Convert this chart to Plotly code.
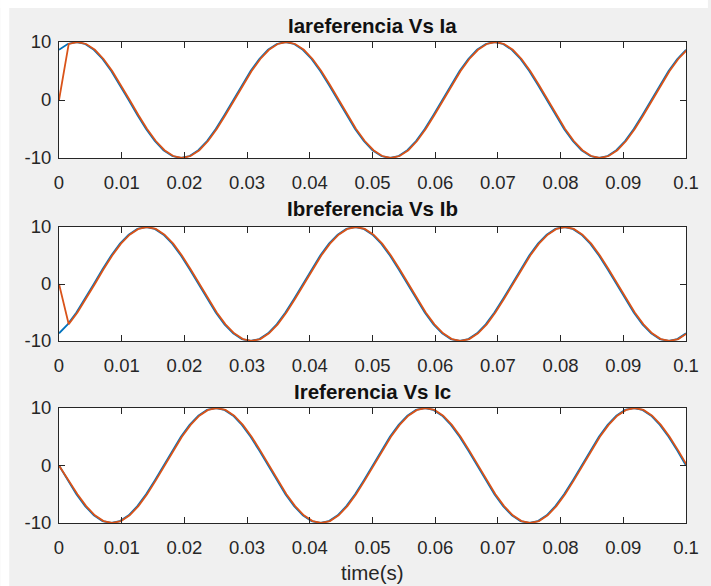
import plotly.graph_objects as go

# Sample instants (s) of the reference currents and of the measured currents
t_ref = [0, 0.001389, 0.002778, 0.004167, 0.005556, 0.006944, 0.008333, 0.009722,
         0.011111, 0.0125, 0.013889, 0.015278, 0.016667, 0.018056, 0.019444, 0.020833,
         0.022222, 0.023611, 0.025, 0.026389, 0.027778, 0.029167, 0.030556, 0.031944,
         0.033333, 0.034722, 0.036111, 0.0375, 0.038889, 0.040278, 0.041667, 0.043056,
         0.044444, 0.045833, 0.047222, 0.048611, 0.05, 0.051389, 0.052778, 0.054167,
         0.055556, 0.056944, 0.058333, 0.059722, 0.061111, 0.0625, 0.063889, 0.065278,
         0.066667, 0.068056, 0.069444, 0.070833, 0.072222, 0.073611, 0.075, 0.076389,
         0.077778, 0.079167, 0.080556, 0.081944, 0.083333, 0.084722, 0.086111, 0.0875,
         0.088889, 0.090278, 0.091667, 0.093056, 0.094444, 0.095833, 0.097222, 0.098611,
         0.1]
t_meas = [0, 0.00155, 0.00294, 0.00433, 0.00572, 0.00710, 0.00849, 0.00988,
          0.01127, 0.01266, 0.01405, 0.01544, 0.01683, 0.01822, 0.01960, 0.02099,
          0.02238, 0.02377, 0.02516, 0.02655, 0.02794, 0.02933, 0.03072, 0.03211,
          0.03349, 0.03488, 0.03627, 0.03766, 0.03905, 0.04044, 0.04183, 0.04322,
          0.04460, 0.04599, 0.04738, 0.04877, 0.05016, 0.05155, 0.05294, 0.05433,
          0.05572, 0.05710, 0.05849, 0.05988, 0.06127, 0.06266, 0.06405, 0.06544,
          0.06683, 0.06822, 0.06960, 0.07099, 0.07238, 0.07377, 0.07516, 0.07655,
          0.07794, 0.07933, 0.08072, 0.08211, 0.08349, 0.08488, 0.08627, 0.08766,
          0.08905, 0.09044, 0.09183, 0.09322, 0.09460, 0.09599, 0.09738, 0.09877,
          0.10016]

# Phase A current (A)
ia_ref = [8.66, 9.66, 10, 9.66, 8.66, 7.07, 5, 2.59, 0, -2.59, -5, -7.07,
          -8.66, -9.66, -10, -9.66, -8.66, -7.07, -5, -2.59, 0, 2.59, 5, 7.07,
          8.66, 9.66, 10, 9.66, 8.66, 7.07, 5, 2.59, 0, -2.59, -5, -7.07,
          -8.66, -9.66, -10, -9.66, -8.66, -7.07, -5, -2.59, 0, 2.59, 5, 7.07,
          8.66, 9.66, 10, 9.66, 8.66, 7.07, 5, 2.59, 0, -2.59, -5, -7.07,
          -8.66, -9.66, -10, -9.66, -8.66, -7.07, -5, -2.59, 0, 2.59, 5, 7.07,
          8.66]
ia_meas = [0, 9.66, 10, 9.66, 8.66, 7.07, 5, 2.59, 0, -2.59, -5, -7.07,
           -8.66, -9.66, -10, -9.66, -8.66, -7.07, -5, -2.59, 0, 2.59, 5, 7.07,
           8.66, 9.66, 10, 9.66, 8.66, 7.07, 5, 2.59, 0, -2.59, -5, -7.07,
           -8.66, -9.66, -10, -9.66, -8.66, -7.07, -5, -2.59, 0, 2.59, 5, 7.07,
           8.66, 9.66, 10, 9.66, 8.66, 7.07, 5, 2.59, 0, -2.59, -5, -7.07,
           -8.66, -9.66, -10, -9.66, -8.66, -7.07, -5, -2.59, 0, 2.59, 5, 7.07,
           8.66]

# Phase B current (A)
ib_ref = [-8.66, -7.07, -5, -2.59, 0, 2.59, 5, 7.07, 8.66, 9.66, 10, 9.66,
          8.66, 7.07, 5, 2.59, 0, -2.59, -5, -7.07, -8.66, -9.66, -10, -9.66,
          -8.66, -7.07, -5, -2.59, 0, 2.59, 5, 7.07, 8.66, 9.66, 10, 9.66,
          8.66, 7.07, 5, 2.59, 0, -2.59, -5, -7.07, -8.66, -9.66, -10, -9.66,
          -8.66, -7.07, -5, -2.59, 0, 2.59, 5, 7.07, 8.66, 9.66, 10, 9.66,
          8.66, 7.07, 5, 2.59, 0, -2.59, -5, -7.07, -8.66, -9.66, -10, -9.66,
          -8.66]
ib_meas = [0, -7.07, -5, -2.59, 0, 2.59, 5, 7.07, 8.66, 9.66, 10, 9.66,
           8.66, 7.07, 5, 2.59, 0, -2.59, -5, -7.07, -8.66, -9.66, -10, -9.66,
           -8.66, -7.07, -5, -2.59, 0, 2.59, 5, 7.07, 8.66, 9.66, 10, 9.66,
           8.66, 7.07, 5, 2.59, 0, -2.59, -5, -7.07, -8.66, -9.66, -10, -9.66,
           -8.66, -7.07, -5, -2.59, 0, 2.59, 5, 7.07, 8.66, 9.66, 10, 9.66,
           8.66, 7.07, 5, 2.59, 0, -2.59, -5, -7.07, -8.66, -9.66, -10, -9.66,
           -8.66]

# Phase C current (A)
ic_ref = [0, -2.59, -5, -7.07, -8.66, -9.66, -10, -9.66, -8.66, -7.07, -5, -2.59,
          0, 2.59, 5, 7.07, 8.66, 9.66, 10, 9.66, 8.66, 7.07, 5, 2.59,
          0, -2.59, -5, -7.07, -8.66, -9.66, -10, -9.66, -8.66, -7.07, -5, -2.59,
          0, 2.59, 5, 7.07, 8.66, 9.66, 10, 9.66, 8.66, 7.07, 5, 2.59,
          0, -2.59, -5, -7.07, -8.66, -9.66, -10, -9.66, -8.66, -7.07, -5, -2.59,
          0, 2.59, 5, 7.07, 8.66, 9.66, 10, 9.66, 8.66, 7.07, 5, 2.59,
          0]
ic_meas = [0, -2.59, -5, -7.07, -8.66, -9.66, -10, -9.66, -8.66, -7.07, -5, -2.59,
           0, 2.59, 5, 7.07, 8.66, 9.66, 10, 9.66, 8.66, 7.07, 5, 2.59,
           0, -2.59, -5, -7.07, -8.66, -9.66, -10, -9.66, -8.66, -7.07, -5, -2.59,
           0, 2.59, 5, 7.07, 8.66, 9.66, 10, 9.66, 8.66, 7.07, 5, 2.59,
           0, -2.59, -5, -7.07, -8.66, -9.66, -10, -9.66, -8.66, -7.07, -5, -2.59,
           0, 2.59, 5, 7.07, 8.66, 9.66, 10, 9.66, 8.66, 7.07, 5, 2.59,
           0]

titles = ["Iareferencia Vs Ia", "Ibreferencia Vs Ib", "Ireferencia Vs Ic"]
x_ticks = [0, 0.01, 0.02, 0.03, 0.04, 0.05, 0.06, 0.07, 0.08, 0.09, 0.1]
x_labels = ["0", "0.01", "0.02", "0.03", "0.04", "0.05", "0.06", "0.07", "0.08", "0.09", "0.1"]
y_ticks = [-10, 0, 10]
y_labels = ["-10", "0", "10"]
x_title = "time(s)"

BLUE = "#0072BD"
ORANGE = "#D95319"
AXC = "#262626"
FONT = "Liberation Sans, Arial, Helvetica, sans-serif"

W, H = 711, 586
ML, MR, MT, MB = 59, 22, 42, 63
PW, PH = W - ML - MR, H - MT - MB


def px_x(px):
    return (px - ML) / PW


def px_y(py):
    return (H - MB - py) / PH


# vertical pixel extents (top, bottom) of the three panels
panel_px = [(42, 158), (227, 341), (408, 523)]
title_px = [25, 209, 392]

series = [(ia_ref, ia_meas), (ib_ref, ib_meas), (ic_ref, ic_meas)]

fig = go.Figure()
layout = dict(
    width=W, height=H,
    margin=dict(l=ML, r=MR, t=MT, b=MB, pad=0),
    paper_bgcolor="#f0f0f0",
    plot_bgcolor="white",
    showlegend=False,
    font=dict(family=FONT, size=18.5, color=AXC),
    annotations=[],
    shapes=[],
)

for i, (ref, meas) in enumerate(series):
    n = "" if i == 0 else str(i + 1)
    xa, ya = "x" + n, "y" + n
    fig.add_trace(go.Scatter(x=t_ref, y=ref, mode="lines", xaxis=xa, yaxis=ya,
                             line=dict(color=BLUE, width=1.8)))
    fig.add_trace(go.Scatter(x=t_meas, y=meas, mode="lines", xaxis=xa, yaxis=ya,
                             line=dict(color=ORANGE, width=1.8)))
    top, bot = panel_px[i]
    common = dict(showline=True, linecolor=AXC, linewidth=1, mirror="ticks",
                  ticks="inside", ticklen=6, tickwidth=1, tickcolor=AXC,
                  showgrid=False, zeroline=False, fixedrange=True,
                  tickfont=dict(family=FONT, size=18.5, color=AXC))
    layout["xaxis" + n] = dict(common, domain=[0, 1], range=[0, 0.1], anchor=ya,
                               tickvals=x_ticks, ticktext=x_labels,
                               ticklabelstandoff=8)
    layout["yaxis" + n] = dict(common, domain=[px_y(bot), px_y(top)], range=[-10, 10],
                               anchor=xa, tickvals=y_ticks, ticktext=y_labels,
                               ticklabelstandoff=3)
    layout["annotations"].append(dict(
        text="<b>" + titles[i] + "</b>", xref="paper", yref="paper",
        x=0.5, y=px_y(title_px[i]), xanchor="center", yanchor="middle",
        showarrow=False, font=dict(family=FONT, size=20.5, color="#111111")))

layout["annotations"].append(dict(
    text=x_title, xref="paper", yref="paper", x=0.5, y=px_y(572),
    xanchor="center", yanchor="middle", showarrow=False,
    font=dict(family=FONT, size=20.5, color=AXC)))

# white border strips along the top and left edges of the window
for x0, x1, y0, y1 in [(0, W, 0, 8), (0, 9, 0, H)]:
    layout["shapes"].append(dict(
        type="rect", xref="paper", yref="paper",
        x0=px_x(x0), x1=px_x(x1), y0=px_y(y1), y1=px_y(y0),
        fillcolor="white", line=dict(width=0), layer="above"))

fig.update_layout(**layout)
fig.write_html("out.html", config={"displayModeBar": False})
